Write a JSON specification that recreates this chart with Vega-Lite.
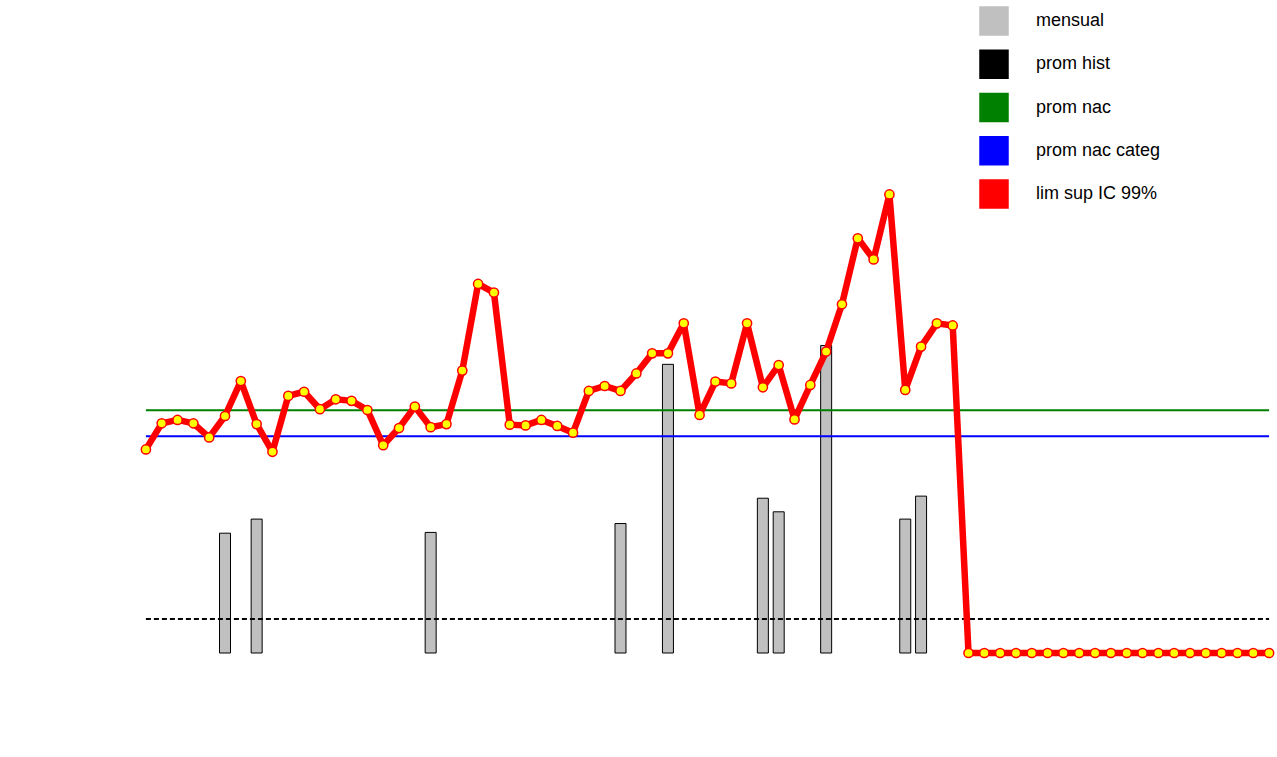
{
  "$schema": "https://vega.github.io/schema/vega-lite/v6.json",
  "autosize": {"type": "none"},
  "padding": {"left": 138, "top": 131, "right": 0, "bottom": 104},
  "width": 1139,
  "height": 522,
  "background": "white",
  "config": {
    "view": {"stroke": null},
    "font": "Liberation Sans",
    "locale": {"number": {"decimal": ",", "thousands": ".", "grouping": [3], "currency": ["", ""]}},
    "axis": {"labelFont": "Liberation Sans", "titleFont": "Liberation Sans", "grid": false}
  },
  "data": {"values": [
    {"m":"2007-01","mensual":null,"lim":0.780,"hist":0.13,"nac":0.93,"categ":0.83},
    {"m":"2007-02","mensual":null,"lim":0.880,"hist":0.13,"nac":0.93,"categ":0.83},
    {"m":"2007-03","mensual":null,"lim":0.893,"hist":0.13,"nac":0.93,"categ":0.83},
    {"m":"2007-04","mensual":null,"lim":0.880,"hist":0.13,"nac":0.93,"categ":0.83},
    {"m":"2007-05","mensual":null,"lim":0.826,"hist":0.13,"nac":0.93,"categ":0.83},
    {"m":"2007-06","mensual":0.459,"lim":0.908,"hist":0.13,"nac":0.93,"categ":0.83},
    {"m":"2007-07","mensual":null,"lim":1.042,"hist":0.13,"nac":0.93,"categ":0.83},
    {"m":"2007-08","mensual":0.513,"lim":0.877,"hist":0.13,"nac":0.93,"categ":0.83},
    {"m":"2007-09","mensual":null,"lim":0.771,"hist":0.13,"nac":0.93,"categ":0.83},
    {"m":"2007-10","mensual":null,"lim":0.985,"hist":0.13,"nac":0.93,"categ":0.83},
    {"m":"2007-11","mensual":null,"lim":1.001,"hist":0.13,"nac":0.93,"categ":0.83},
    {"m":"2007-12","mensual":null,"lim":0.934,"hist":0.13,"nac":0.93,"categ":0.83},
    {"m":"2008-01","mensual":null,"lim":0.972,"hist":0.13,"nac":0.93,"categ":0.83},
    {"m":"2008-02","mensual":null,"lim":0.966,"hist":0.13,"nac":0.93,"categ":0.83},
    {"m":"2008-03","mensual":null,"lim":0.931,"hist":0.13,"nac":0.93,"categ":0.83},
    {"m":"2008-04","mensual":null,"lim":0.796,"hist":0.13,"nac":0.93,"categ":0.83},
    {"m":"2008-05","mensual":null,"lim":0.862,"hist":0.13,"nac":0.93,"categ":0.83},
    {"m":"2008-06","mensual":null,"lim":0.944,"hist":0.13,"nac":0.93,"categ":0.83},
    {"m":"2008-07","mensual":0.462,"lim":0.865,"hist":0.13,"nac":0.93,"categ":0.83},
    {"m":"2008-08","mensual":null,"lim":0.877,"hist":0.13,"nac":0.93,"categ":0.83},
    {"m":"2008-09","mensual":null,"lim":1.082,"hist":0.13,"nac":0.93,"categ":0.83},
    {"m":"2008-10","mensual":null,"lim":1.414,"hist":0.13,"nac":0.93,"categ":0.83},
    {"m":"2008-11","mensual":null,"lim":1.381,"hist":0.13,"nac":0.93,"categ":0.83},
    {"m":"2008-12","mensual":null,"lim":0.875,"hist":0.13,"nac":0.93,"categ":0.83},
    {"m":"2009-01","mensual":null,"lim":0.872,"hist":0.13,"nac":0.93,"categ":0.83},
    {"m":"2009-02","mensual":null,"lim":0.893,"hist":0.13,"nac":0.93,"categ":0.83},
    {"m":"2009-03","mensual":null,"lim":0.870,"hist":0.13,"nac":0.93,"categ":0.83},
    {"m":"2009-04","mensual":null,"lim":0.844,"hist":0.13,"nac":0.93,"categ":0.83},
    {"m":"2009-05","mensual":null,"lim":1.004,"hist":0.13,"nac":0.93,"categ":0.83},
    {"m":"2009-06","mensual":null,"lim":1.023,"hist":0.13,"nac":0.93,"categ":0.83},
    {"m":"2009-07","mensual":0.496,"lim":1.004,"hist":0.13,"nac":0.93,"categ":0.83},
    {"m":"2009-08","mensual":null,"lim":1.071,"hist":0.13,"nac":0.93,"categ":0.83},
    {"m":"2009-09","mensual":null,"lim":1.148,"hist":0.13,"nac":0.93,"categ":0.83},
    {"m":"2009-10","mensual":1.106,"lim":1.148,"hist":0.13,"nac":0.93,"categ":0.83},
    {"m":"2009-11","mensual":null,"lim":1.263,"hist":0.13,"nac":0.93,"categ":0.83},
    {"m":"2009-12","mensual":null,"lim":0.912,"hist":0.13,"nac":0.93,"categ":0.83},
    {"m":"2010-01","mensual":null,"lim":1.040,"hist":0.13,"nac":0.93,"categ":0.83},
    {"m":"2010-02","mensual":null,"lim":1.033,"hist":0.13,"nac":0.93,"categ":0.83},
    {"m":"2010-03","mensual":null,"lim":1.263,"hist":0.13,"nac":0.93,"categ":0.83},
    {"m":"2010-04","mensual":0.593,"lim":1.018,"hist":0.13,"nac":0.93,"categ":0.83},
    {"m":"2010-05","mensual":0.541,"lim":1.103,"hist":0.13,"nac":0.93,"categ":0.83},
    {"m":"2010-06","mensual":null,"lim":0.895,"hist":0.13,"nac":0.93,"categ":0.83},
    {"m":"2010-07","mensual":null,"lim":1.027,"hist":0.13,"nac":0.93,"categ":0.83},
    {"m":"2010-08","mensual":1.178,"lim":1.155,"hist":0.13,"nac":0.93,"categ":0.83},
    {"m":"2010-09","mensual":null,"lim":1.336,"hist":0.13,"nac":0.93,"categ":0.83},
    {"m":"2010-10","mensual":null,"lim":1.589,"hist":0.13,"nac":0.93,"categ":0.83},
    {"m":"2010-11","mensual":null,"lim":1.508,"hist":0.13,"nac":0.93,"categ":0.83},
    {"m":"2010-12","mensual":null,"lim":1.757,"hist":0.13,"nac":0.93,"categ":0.83},
    {"m":"2011-01","mensual":0.513,"lim":1.008,"hist":0.13,"nac":0.93,"categ":0.83},
    {"m":"2011-02","mensual":0.601,"lim":1.174,"hist":0.13,"nac":0.93,"categ":0.83},
    {"m":"2011-03","mensual":null,"lim":1.263,"hist":0.13,"nac":0.93,"categ":0.83},
    {"m":"2011-04","mensual":null,"lim":1.255,"hist":0.13,"nac":0.93,"categ":0.83},
    {"m":"2011-05","mensual":null,"lim":0,"hist":0.13,"nac":0.93,"categ":0.83},
    {"m":"2011-06","mensual":null,"lim":0,"hist":0.13,"nac":0.93,"categ":0.83},
    {"m":"2011-07","mensual":null,"lim":0,"hist":0.13,"nac":0.93,"categ":0.83},
    {"m":"2011-08","mensual":null,"lim":0,"hist":0.13,"nac":0.93,"categ":0.83},
    {"m":"2011-09","mensual":null,"lim":0,"hist":0.13,"nac":0.93,"categ":0.83},
    {"m":"2011-10","mensual":null,"lim":0,"hist":0.13,"nac":0.93,"categ":0.83},
    {"m":"2011-11","mensual":null,"lim":0,"hist":0.13,"nac":0.93,"categ":0.83},
    {"m":"2011-12","mensual":null,"lim":0,"hist":0.13,"nac":0.93,"categ":0.83},
    {"m":"2012-01","mensual":null,"lim":0,"hist":0.13,"nac":0.93,"categ":0.83},
    {"m":"2012-02","mensual":null,"lim":0,"hist":0.13,"nac":0.93,"categ":0.83},
    {"m":"2012-03","mensual":null,"lim":0,"hist":0.13,"nac":0.93,"categ":0.83},
    {"m":"2012-04","mensual":null,"lim":0,"hist":0.13,"nac":0.93,"categ":0.83},
    {"m":"2012-05","mensual":null,"lim":0,"hist":0.13,"nac":0.93,"categ":0.83},
    {"m":"2012-06","mensual":null,"lim":0,"hist":0.13,"nac":0.93,"categ":0.83},
    {"m":"2012-07","mensual":null,"lim":0,"hist":0.13,"nac":0.93,"categ":0.83},
    {"m":"2012-08","mensual":null,"lim":0,"hist":0.13,"nac":0.93,"categ":0.83},
    {"m":"2012-09","mensual":null,"lim":0,"hist":0.13,"nac":0.93,"categ":0.83},
    {"m":"2012-10","mensual":null,"lim":0,"hist":0.13,"nac":0.93,"categ":0.83},
    {"m":"2012-11","mensual":null,"lim":0,"hist":0.13,"nac":0.93,"categ":0.83},
    {"m":"2012-12","mensual":null,"lim":0,"hist":0.13,"nac":0.93,"categ":0.83}
  ]},
  "layer": [
    {
      "mark": {"type": "bar", "size": 11, "stroke": "#000000", "strokeWidth": 1},
      "encoding": {
        "x": {"field": "m", "type": "ordinal",
          "scale": {"type": "band", "paddingInner": 0, "paddingOuter": 0},
          "axis": {"orient": "bottom", "title": null, "tickBand": "extent", "tickSize": 60, "tickColor": "#909090", "tickWidth": 1.2, "domainColor": "#808080", "domainWidth": 1.5,
            "labelAngle": -90, "labelAlign": "right", "labelBaseline": "middle", "labelPadding": -38, "labelFontSize": 15, "labelFontWeight": "bold", "labelColor": "#000000", "labelOverlap": false, "labelBound": false,
            "labelExpr": "toNumber(slice(datum.value,5,7)) % 2 == 1 ? ['Ene','Feb','Mar','Abr','May','Jun','Jul','Ago','Sep','Oct','Nov','Dic'][toNumber(slice(datum.value,5,7))-1] : ''"}},
        "y": {"field": "mensual", "type": "quantitative",
          "scale": {"domain": [0, 2], "nice": false, "zero": true},
          "axis": {"title": "Tasa de Incidencia x 100 pac-dia", "values": [0,0.2,0.4,0.6,0.8,1,1.2,1.4,1.6,1.8,2], "format": ".2f",
            "labelFontSize": 25, "labelFontWeight": "bold", "labelColor": "#000000", "labelPadding": 18,
            "tickSize": 8, "tickColor": "#808080", "tickWidth": 1.5, "domainColor": "#808080", "domainWidth": 1.5,
            "titleFontSize": 30, "titleFontWeight": "bold", "titleColor": "#000000", "titlePadding": 16}},
        "color": {"datum": "mensual", "type": "nominal",
          "scale": {"domain": ["mensual", "prom hist", "prom nac", "prom nac categ", "lim sup IC 99%"], "range": ["#c0c0c0", "#000000", "#008000", "#0000ff", "#ff0000"]},
          "legend": {"orient": "none", "legendX": 841, "legendY": -125, "title": null, "direction": "vertical", "padding": 0,
            "symbolSize": 784, "rowPadding": 9.25, "labelOffset": 27, "labelFontSize": 18, "labelFont": "Liberation Sans", "labelColor": "#000000", "labelLimit": 400,
            "encode": {"symbols": {"update": {
              "shape": {"signal": "datum.value === 'mensual' ? 'M-2.45,-0.34L2.45,-0.34L2.45,0.34L-2.45,0.34Z' : 'M-2.5,0L2.5,0'"},
              "fill": {"signal": "datum.value === 'mensual' ? '#c0c0c0' : 'transparent'"},
              "stroke": {"signal": "datum.value === 'prom nac' ? '#008000' : datum.value === 'prom nac categ' ? '#0000ff' : datum.value === 'lim sup IC 99%' ? '#ff0000' : '#000000'"},
              "strokeWidth": {"signal": "datum.value === 'lim sup IC 99%' ? 6.5 : datum.value === 'mensual' ? 1.3 : 2"},
              "strokeDash": {"signal": "datum.value === 'prom hist' ? [5,3] : [1,0]"},
              "opacity": {"value": 1}, "fillOpacity": {"value": 1}, "strokeOpacity": {"value": 1}
            }}}}}
      }
    },
    {
      "mark": {"type": "line", "strokeWidth": 2, "strokeDash": [5, 3]},
      "encoding": {
        "x": {"field": "m", "type": "ordinal", "axis": null},
        "y": {"field": "hist", "type": "quantitative", "axis": null},
        "color": {"datum": "prom hist", "type": "nominal"}
      }
    },
    {
      "mark": {"type": "line", "strokeWidth": 2},
      "encoding": {
        "x": {"field": "m", "type": "ordinal", "axis": null},
        "y": {"field": "nac", "type": "quantitative", "axis": null},
        "color": {"datum": "prom nac", "type": "nominal"}
      }
    },
    {
      "mark": {"type": "line", "strokeWidth": 2},
      "encoding": {
        "x": {"field": "m", "type": "ordinal", "axis": null},
        "y": {"field": "categ", "type": "quantitative", "axis": null},
        "color": {"datum": "prom nac categ", "type": "nominal"}
      }
    },
    {
      "mark": {"type": "line", "strokeWidth": 6.5, "strokeJoin": "round"},
      "encoding": {
        "x": {"field": "m", "type": "ordinal", "axis": null},
        "y": {"field": "lim", "type": "quantitative", "axis": null},
        "color": {"datum": "lim sup IC 99%", "type": "nominal"}
      }
    },
    {
      "mark": {"type": "point", "filled": true, "fill": "#ffff00", "stroke": "#ff0000", "strokeWidth": 1.5, "size": 85, "opacity": 1},
      "encoding": {
        "x": {"field": "m", "type": "ordinal", "axis": null},
        "y": {"field": "lim", "type": "quantitative", "axis": null}
      }
    }
  ]
}
